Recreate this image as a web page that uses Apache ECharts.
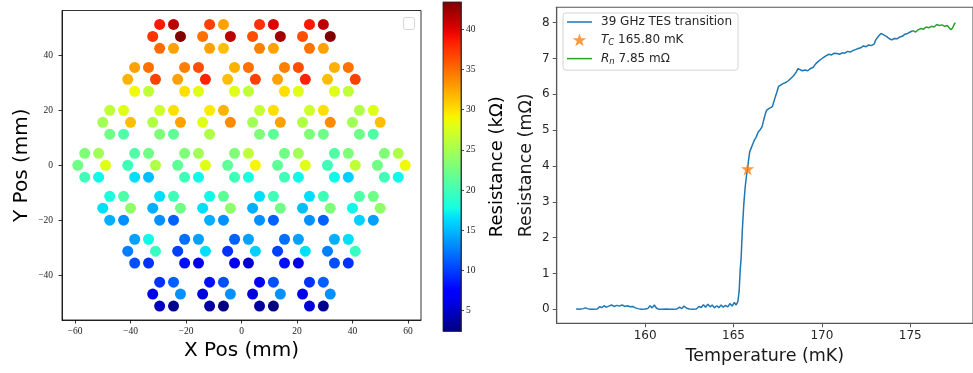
<!DOCTYPE html>
<html>
<head>
<meta charset="utf-8">
<script src="https://cdn.jsdelivr.net/npm/echarts@6/dist/echarts.min.js"></script>
<style>
  html, body { margin: 0; padding: 0; background: #fff; }
  #main { width: 973px; height: 373px; }
</style>
</head>
<body>
<div id="main"></div>
<script>
// ---- focal plane: hex clusters of 6 pixels (mm) ----
const rowY = [46.8, 31.2, 15.6, 0, -15.6, -31.2, -46.8];
const rowX = [
  [-27, -9, 9, 27],
  [-36, -18, 0, 18, 36],
  [-45, -27, -9, 9, 27, 45],
  [-54, -36, -18, 0, 18, 36, 54],
  [-45, -27, -9, 9, 27, 45],
  [-36, -18, 0, 18, 36],
  [-27, -9, 9, 27]
];
// pixel offsets inside a cluster: TL, TR, ML, MR, BL, BR
const pixDX = [-2.5, 2.5, -5, 5, -2.5, 2.5];
const pixDY = [4.33, 4.33, 0, 0, -4.33, -4.33];

// resistance (kΩ) for each cluster, same pixel order; null = dead pixel
const resKOhm = [
  [[38.6, 41.2, 37.5, 43.4, 35.1, 32.7], [36.9, 32.7, 34.8, 41.2, 32.7, 31.4],
   [37.6, 40.0, 36.3, 42.2, 34.2, 32.7], [38.6, 41.2, 36.3, 43.4, 34.8, 32.7]],
  [[32.7, 34.8, 32.0, 36.9, 28.7, 26.3], [34.2, 36.3, 32.7, 38.2, 30.0, 27.9],
   [32.0, 34.8, 31.4, 36.9, 27.9, 26.3], [34.2, 36.3, 32.7, 38.2, 30.0, 27.9],
   [32.0, 34.8, 31.4, 36.9, 27.9, 26.3]],
  [[26.3, 27.9, 24.8, 31.4, 22.3, 20.7], [27.0, 30.0, 25.5, 32.7, 23.1, 21.5],
   [29.6, 32.0, 27.9, 33.7, 25.5, null], [26.6, 30.0, 24.8, 32.7, 23.1, 21.5],
   [27.0, 30.0, 25.5, 33.7, 23.1, 22.3], [25.5, 27.9, 24.8, 31.4, 22.3, 20.7]],
  [[23.1, 24.8, 22.3, 27.9, 19.9, 17.5], [20.7, 22.3, 19.9, 25.5, 16.5, 15.2],
   [23.1, 24.8, 21.5, 27.9, 19.9, 17.5], [23.1, 26.3, 21.5, 29.0, 19.9, 18.0],
   [22.3, 24.8, 21.5, 27.9, 19.9, 17.5], [20.7, 23.1, 19.9, 26.3, 17.5, 15.9],
   [23.1, 25.5, 22.3, 28.7, 19.9, 17.5]],
  [[18.0, 20.7, 16.5, 23.9, 14.6, 13.3], [16.5, 19.9, 14.6, 22.3, 13.3, 11.4],
   [17.5, 21.5, 16.5, 23.9, 14.6, 13.3], [16.5, 19.9, 14.6, 22.3, 13.3, 11.4],
   [16.5, 19.9, 15.2, 23.1, 13.3, 11.4], [20.7, 22.3, 17.5, 23.9, 15.9, 14.0]],
  [[14.0, 17.5, 12.6, 19.5, 10.7, 9.5], [12.0, 14.0, 10.1, 16.5, 8.1, 6.3],
   [11.4, 14.0, 9.5, 15.9, 7.1, 5.3], [12.0, 14.0, 10.1, 16.5, 8.1, 6.3],
   [14.6, 16.5, 12.6, 19.5, 10.7, 9.5]],
  [[9.5, 11.4, 6.4, 13.3, 4.7, 2.9], [8.1, 10.7, 5.8, 13.3, 3.6, 2.4],
   [7.1, 10.7, 5.8, 13.3, 3.6, 2.4], [9.5, 11.4, 6.4, 13.3, 5.8, 2.9]]
];
const cbarMin = 2.4, cbarMax = 43.4;
const cbarTicks = [5, 10, 15, 20, 25, 30, 35, 40];
const posTicksX = [-60, -40, -20, 0, 20, 40, 60];
const posTicksY = [-40, -20, 0, 20, 40];

// ---- TES transition (T in mK, R in mΩ) ----
const tempMK = [
  156.10, 156.30, 156.50, 156.62, 156.75, 156.90, 157.10, 157.30, 157.42, 157.55,
  157.68, 157.80, 157.95, 158.10, 158.25, 158.40, 158.55, 158.70, 158.85, 159.00,
  159.15, 159.30, 159.45, 159.60, 159.80, 160.00, 160.15, 160.28, 160.40, 160.52,
  160.65, 160.80, 161.00, 161.20, 161.40, 161.60, 161.80, 161.95, 162.08, 162.20,
  162.35, 162.50, 162.70, 162.90, 163.05, 163.18, 163.30, 163.42, 163.55, 163.68,
  163.80, 163.92, 164.05, 164.18, 164.30, 164.42, 164.55, 164.68, 164.80, 164.92,
  165.05, 165.15, 165.25, 165.32, 165.38, 165.43, 165.50, 165.58, 165.66, 165.74,
  165.80, 165.85, 165.92, 166.00, 166.08, 166.18, 166.28, 166.40, 166.52, 166.62,
  166.72, 166.80, 166.88, 167.00, 167.10, 167.20, 167.30, 167.38, 167.45, 167.55,
  167.65, 167.80, 167.95, 168.10, 168.25, 168.40, 168.55, 168.65, 168.75, 168.90,
  169.05, 169.20, 169.35, 169.50, 169.65, 169.80, 169.95, 170.10, 170.25, 170.40,
  170.55, 170.70, 170.85, 171.00, 171.15, 171.30, 171.45, 171.60, 171.75, 171.90,
  172.05, 172.20, 172.35, 172.50, 172.65, 172.80, 172.95, 173.05, 173.20, 173.35,
  173.50, 173.65, 173.80, 173.95, 174.10, 174.25, 174.40, 174.55, 174.70, 174.85,
  175.00, 175.15
];
const resMOhm = [
  0.01, 0.00, 0.02, 0.04, 0.02, 0.00, 0.00, 0.01, 0.07, 0.05,
  0.10, 0.06, 0.09, 0.12, 0.08, 0.11, 0.09, 0.12, 0.08, 0.10,
  0.07, 0.08, 0.04, 0.02, 0.00, 0.01, 0.02, 0.10, 0.04, 0.12,
  0.03, 0.00, 0.00, 0.01, 0.00, 0.00, 0.01, 0.06, 0.02, 0.09,
  0.03, 0.01, 0.00, 0.01, 0.08, 0.05, 0.13, 0.06, 0.14, 0.07,
  0.12, 0.04, 0.10, 0.05, 0.12, 0.06, 0.11, 0.07, 0.16, 0.09,
  0.19, 0.12, 0.22, 0.50, 1.10, 1.40, 2.20, 2.90, 3.40, 3.75,
  3.92, 4.15, 4.40, 4.50, 4.60, 4.72, 4.80, 4.95, 5.02, 5.10,
  5.30, 5.45, 5.56, 5.60, 5.62, 5.66, 5.70, 5.95, 6.05, 6.22,
  6.27, 6.30, 6.33, 6.38, 6.45, 6.52, 6.62, 6.72, 6.70, 6.66,
  6.68, 6.66, 6.72, 6.75, 6.85, 6.92, 6.98, 7.03, 7.08, 7.12,
  7.10, 7.15, 7.14, 7.12, 7.16, 7.15, 7.20, 7.18, 7.22, 7.25,
  7.28, 7.30, 7.35, 7.33, 7.38, 7.36, 7.40, 7.52, 7.62, 7.70,
  7.66, 7.62, 7.56, 7.52, 7.56, 7.55, 7.60, 7.62, 7.68, 7.70,
  7.74, 7.78
];
// normal-state segment used for R_n
const rnTempMK = [175.15, 175.30, 175.45, 175.60, 175.75, 175.90, 176.05, 176.20, 176.35,
  176.50, 176.65, 176.80, 176.95, 177.10, 177.20, 177.30, 177.40, 177.48, 177.55];
const rnResMOhm = [7.78, 7.74, 7.80, 7.84, 7.82, 7.88, 7.86, 7.90, 7.88,
  7.95, 7.92, 7.94, 7.90, 7.92, 7.86, 7.80, 7.86, 7.95, 8.00];
const tcPoint = [165.80, 3.92];
const tempTicks = [160, 165, 170, 175];
const resTicks = [0, 1, 2, 3, 4, 5, 6, 7, 8];

// matplotlib jet colormap
function jet(t) {
  const seg = (p) => {
    for (let i = 0; i < p.length - 1; i++) {
      if (t <= p[i + 1][0]) {
        const f = (t - p[i][0]) / (p[i + 1][0] - p[i][0]);
        return p[i][1] + f * (p[i + 1][1] - p[i][1]);
      }
    }
    return p[p.length - 1][1];
  };
  const r = seg([[0, 0], [0.35, 0], [0.66, 1], [0.89, 1], [1, 0.5]]);
  const g = seg([[0, 0], [0.125, 0], [0.375, 1], [0.64, 1], [0.91, 0], [1, 0]]);
  const b = seg([[0, 0.5], [0.11, 1], [0.34, 1], [0.65, 0], [1, 0]]);
  return 'rgb(' + Math.round(r * 255) + ',' + Math.round(g * 255) + ',' + Math.round(b * 255) + ')';
}
const jetColors = [], jetStops = [];
for (let i = 0; i <= 40; i++) {
  jetColors.push(jet(i / 40));
  jetStops.push({ offset: i / 40, color: jet(i / 40) });
}

const pixels = [];
rowY.forEach((y, r) => {
  rowX[r].forEach((x, c) => {
    resKOhm[r][c].forEach((v, k) => {
      if (v !== null) pixels.push([x + pixDX[k], y + pixDY[k], v]);
    });
  });
});

const starPath = 'path://M0,-1L0.2245,-0.309L0.951,-0.309L0.363,0.118L0.588,0.809L0,0.382L-0.588,0.809L-0.363,0.118L-0.951,-0.309L-0.2245,-0.309Z';
const lineIcon = 'path://M0,0L25,0L25,1.5L0,1.5Z';
const minus = (v) => String(v).replace('-', '\u2212');
const serif = 'Liberation Serif';
const sans = 'DejaVu Sans';

const chart = echarts.init(document.getElementById('main'));
chart.setOption({
  animation: false,
  grid: [
    { left: 62, top: 10.5, width: 359, height: 309.5, show: true, borderColor: '#000', borderWidth: 0.8, z: 5 },
    { left: 556.7, top: 7.3, right: -5.5, bottom: 49.7, show: true, borderColor: '#555', borderWidth: 1.1 },
    { left: 443, top: 2, width: 18, height: 329.5, show: true, borderColor: '#222', borderWidth: 0.8, z: 10 }
  ],
  xAxis: [
    {
      gridIndex: 0, type: 'value', min: -64.7, max: 64.7,
      name: 'X Pos (mm)', nameLocation: 'middle', nameGap: 19,
      nameTextStyle: { fontFamily: sans, fontSize: 20, color: '#000', verticalAlign: 'top' },
      axisLine: { onZero: false, lineStyle: { color: '#000', width: 0.8 } },
      axisTick: { customValues: posTicksX, length: 3.5, lineStyle: { color: '#000', width: 0.8 } },
      axisLabel: { customValues: posTicksX, formatter: minus, fontFamily: serif, fontSize: 9.5, color: '#222', margin: 6 },
      splitLine: { show: false }
    },
    {
      gridIndex: 1, type: 'value', min: 155, max: 178.55,
      name: 'Temperature (mK)', nameLocation: 'middle', nameGap: 23,
      nameTextStyle: { fontFamily: sans, fontSize: 17.5, color: '#1a1a1a', verticalAlign: 'top' },
      axisLine: { onZero: false, lineStyle: { color: '#555', width: 1.1 } },
      axisTick: { customValues: tempTicks, length: 4, lineStyle: { color: '#555', width: 1 } },
      axisLabel: { customValues: tempTicks, fontFamily: sans, fontSize: 12, color: '#262626', margin: 7 },
      splitLine: { show: false }
    },
    { gridIndex: 2, type: 'category', data: ['cb'], show: false }
  ],
  yAxis: [
    {
      gridIndex: 0, type: 'value', min: -56.2, max: 56.2,
      name: 'Y Pos (mm)', nameLocation: 'middle', nameGap: 30, nameRotate: 90,
      nameTextStyle: { fontFamily: sans, fontSize: 20, color: '#000' },
      axisLine: { onZero: false, lineStyle: { color: '#000', width: 0.8 } },
      axisTick: { customValues: posTicksY, length: 3.5, lineStyle: { color: '#000', width: 0.8 } },
      axisLabel: { customValues: posTicksY, formatter: minus, fontFamily: serif, fontSize: 9.5, color: '#222', margin: 9 },
      splitLine: { show: false }
    },
    {
      gridIndex: 1, type: 'value', min: -0.39, max: 8.43,
      name: 'Resistance (m\u03A9)', nameLocation: 'middle', nameGap: 21, nameRotate: 90,
      nameTextStyle: { fontFamily: sans, fontSize: 17.5, color: '#1a1a1a' },
      axisLine: { onZero: false, lineStyle: { color: '#555', width: 1.1 } },
      axisTick: { customValues: resTicks, length: 4, lineStyle: { color: '#555', width: 1 } },
      axisLabel: { customValues: resTicks, fontFamily: sans, fontSize: 12, color: '#262626', margin: 7 },
      splitLine: { show: false }
    },
    {
      gridIndex: 2, type: 'value', position: 'right', min: cbarMin, max: cbarMax,
      name: 'Resistance (k\u03A9)', nameLocation: 'middle', nameGap: 27, nameRotate: 90,
      nameTextStyle: { fontFamily: sans, fontSize: 18, color: '#000' },
      axisLine: { show: true, onZero: false, lineStyle: { color: '#222', width: 0.8 } },
      axisTick: { show: true, customValues: cbarTicks, length: 3, lineStyle: { color: '#222', width: 0.8 } },
      axisLabel: { customValues: cbarTicks, fontFamily: serif, fontSize: 9.5, color: '#222', margin: 5 },
      splitLine: { show: false }
    }
  ],
  visualMap: {
    type: 'continuous', show: false, seriesIndex: 0, dimension: 2,
    min: cbarMin, max: cbarMax, inRange: { color: jetColors }
  },
  legend: {
    left: 563, top: 13, orient: 'vertical', selectedMode: false,
    data: [{ name: 'trans', icon: lineIcon }, { name: 'tc', icon: starPath }, { name: 'rn', icon: lineIcon }],
    itemWidth: 25, itemHeight: 13, itemGap: 5.3,
    padding: [3, 6, 4, 4],
    borderColor: '#d4d4d4', borderWidth: 1, borderRadius: 3, backgroundColor: '#fff',
    formatter: (n) => n === 'trans' ? '39 GHz TES transition'
      : n === 'tc' ? '{it|T}{sub|C} 165.80 mK' : '{it|R}{sub|n} 7.85 m\u03A9',
    textStyle: {
      fontFamily: sans, fontSize: 12, color: '#262626', padding: [0, 0, 0, 4],
      rich: {
        it: { fontFamily: sans, fontSize: 12, fontStyle: 'italic', color: '#262626' },
        sub: { fontFamily: sans, fontSize: 8.5, fontStyle: 'italic', color: '#262626', padding: [6, 0, 0, 0] }
      }
    }
  },
  graphic: [
    { type: 'rect', left: 403, top: 17, shape: { width: 11, height: 12, r: 2 },
      style: { fill: '#fff', stroke: '#d6d6d6', lineWidth: 1 }, z: 20 }
  ],
  series: [
    {
      type: 'scatter', xAxisIndex: 0, yAxisIndex: 0, data: pixels,
      symbolSize: 11, itemStyle: { opacity: 1 }
    },
    {
      name: 'trans', type: 'line', xAxisIndex: 1, yAxisIndex: 1,
      data: tempMK.map((t, i) => [t, resMOhm[i]]),
      symbol: 'none', lineStyle: { color: '#1f77b4', width: 1.5 }, itemStyle: { color: '#1f77b4' }
    },
    {
      name: 'tc', type: 'scatter', xAxisIndex: 1, yAxisIndex: 1, data: [tcPoint],
      symbol: starPath, symbolSize: 13, itemStyle: { color: '#ff7f0e' }, z: 5
    },
    {
      name: 'rn', type: 'line', xAxisIndex: 1, yAxisIndex: 1,
      data: rnTempMK.map((t, i) => [t, rnResMOhm[i]]),
      symbol: 'none', lineStyle: { color: '#2ca02c', width: 1.5 }, itemStyle: { color: '#2ca02c' }
    },
    {
      type: 'bar', xAxisIndex: 2, yAxisIndex: 2, stack: 'cb', data: [cbarMin],
      barWidth: '100%', itemStyle: { color: 'rgba(0,0,0,0)' }, silent: true
    },
    {
      type: 'bar', xAxisIndex: 2, yAxisIndex: 2, stack: 'cb', data: [cbarMax - cbarMin],
      barWidth: '100%', silent: true,
      itemStyle: { color: new echarts.graphic.LinearGradient(0, 1, 0, 0, jetStops) }
    }
  ]
});
</script>
</body>
</html>
